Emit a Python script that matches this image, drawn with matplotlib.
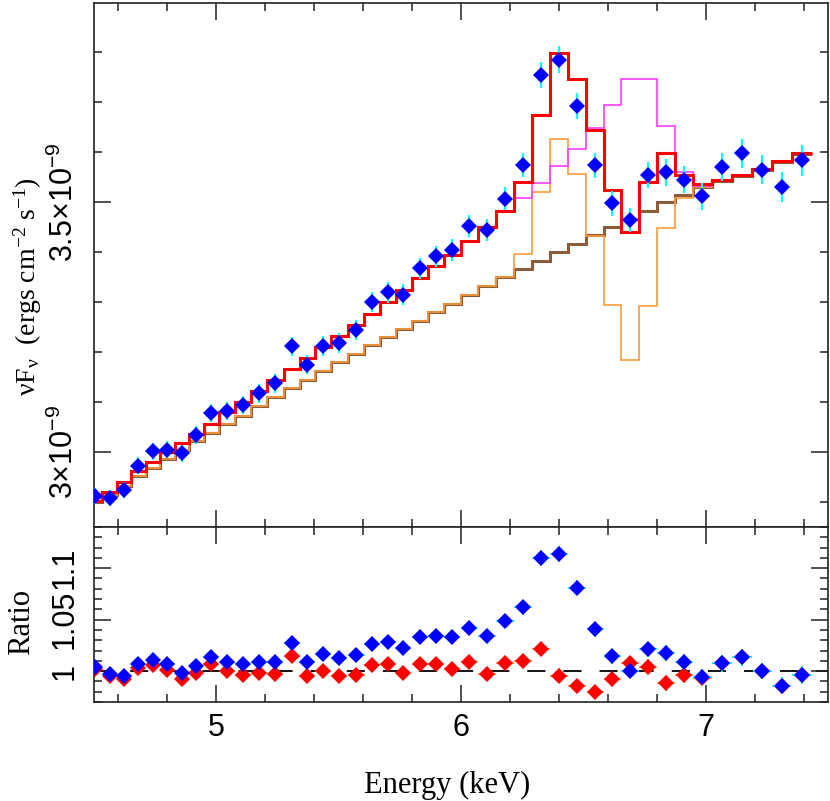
import numpy as np
import matplotlib
matplotlib.use('Agg')
import matplotlib.pyplot as plt
from matplotlib.ticker import MultipleLocator, FixedLocator

plt.rcParams['font.family'] = ['Liberation Sans', 'DejaVu Sans']
plt.rcParams['mathtext.fontset'] = 'custom'
plt.rcParams['mathtext.rm'] = 'Liberation Serif'
plt.rcParams['mathtext.it'] = 'Liberation Serif:italic'
plt.rcParams['mathtext.sf'] = 'Liberation Sans'

# bin centres (keV)
energy = np.array([4.504, 4.565, 4.623, 4.680, 4.741, 4.800, 4.860, 4.917, 4.979, 5.044,
                   5.109, 5.175, 5.240, 5.310, 5.371, 5.437, 5.502, 5.572, 5.637, 5.702,
                   5.764, 5.833, 5.899, 5.964, 6.034, 6.107, 6.181, 6.255, 6.328, 6.402,
                   6.475, 6.549, 6.619, 6.692, 6.766, 6.839, 6.913, 6.987, 7.068, 7.150,
                   7.232, 7.310, 7.392])

# nuFnu data, units of 1e-9 ergs/cm2/s
flux = np.array([2.911, 2.907, 2.923, 2.972, 3.001, 3.004, 2.997, 3.034, 3.077, 3.081,
                 3.094, 3.117, 3.137, 3.211, 3.174, 3.211, 3.217, 3.244, 3.299, 3.319,
                 3.314, 3.367, 3.391, 3.404, 3.451, 3.444, 3.506, 3.573, 3.753, 3.784,
                 3.691, 3.573, 3.497, 3.464, 3.553, 3.559, 3.544, 3.511, 3.569, 3.597,
                 3.564, 3.529, 3.583])
flux_err = np.array([0.016, 0.016, 0.016, 0.017, 0.017, 0.017, 0.017, 0.018, 0.018, 0.018,
                     0.018, 0.019, 0.019, 0.019, 0.019, 0.020, 0.020, 0.020, 0.020, 0.021,
                     0.021, 0.021, 0.021, 0.022, 0.022, 0.022, 0.023, 0.024, 0.026, 0.027,
                     0.026, 0.025, 0.025, 0.024, 0.026, 0.027, 0.027, 0.027, 0.028, 0.029,
                     0.029, 0.030, 0.031])

# total model (red)
model_total = np.array([2.901, 2.919, 2.939, 2.961, 2.979, 2.999, 3.017, 3.036, 3.056, 3.079,
                        3.099, 3.122, 3.144, 3.165, 3.187, 3.209, 3.232, 3.254, 3.276, 3.299,
                        3.323, 3.347, 3.371, 3.394, 3.421, 3.449, 3.482, 3.539, 3.674, 3.797,
                        3.745, 3.644, 3.524, 3.439, 3.539, 3.597, 3.554, 3.535, 3.544, 3.554,
                        3.565, 3.581, 3.597])

# continuum (brown)
continuum = np.array([2.899, 2.914, 2.932, 2.951, 2.967, 2.985, 3.003, 3.021, 3.037, 3.055,
                      3.072, 3.091, 3.109, 3.127, 3.144, 3.162, 3.179, 3.196, 3.213, 3.229,
                      3.245, 3.262, 3.279, 3.295, 3.313, 3.331, 3.349, 3.365, 3.382, 3.399,
                      3.415, 3.433, 3.449, 3.465, 3.482, 3.499, 3.514, 3.529, 3.541, 3.552,
                      3.564, 3.579, 3.596])

# alternative model with 6.7 keV line (magenta)
model_magenta = np.array([2.901, 2.919, 2.939, 2.961, 2.979, 2.999, 3.017, 3.036, 3.056, 3.079,
                          3.099, 3.122, 3.144, 3.165, 3.187, 3.209, 3.232, 3.254, 3.276, 3.299,
                          3.323, 3.347, 3.371, 3.394, 3.421, 3.449, 3.479, 3.507, 3.537, 3.571,
                          3.605, 3.647, 3.694, 3.746, 3.746, 3.652, 3.559, 3.531, 3.544, 3.554,
                          3.565, 3.581, 3.597])

# model with absorption feature (orange)
model_orange = np.array([2.899, 2.914, 2.932, 2.951, 2.967, 2.985, 3.003, 3.021, 3.037, 3.055,
                         3.072, 3.091, 3.109, 3.127, 3.144, 3.162, 3.179, 3.196, 3.213, 3.229,
                         3.245, 3.262, 3.279, 3.295, 3.313, 3.331, 3.349, 3.395, 3.519, 3.625,
                         3.555, 3.432, 3.293, 3.184, 3.292, 3.447, 3.507, 3.529, 3.541, 3.552,
                         3.564, 3.579, 3.596])

# ratios: data / continuum (blue) and data / total model (red)
ratio_cont = np.array([1.0042, 0.9971, 0.9955, 1.0068, 1.0107, 1.0068, 0.9984, 1.0052, 1.0140, 1.0091,
                       1.0068, 1.0084, 1.0091, 1.0276, 1.0091, 1.0162, 1.0123, 1.0156, 1.0263, 1.0279,
                       1.0221, 1.0334, 1.0344, 1.0328, 1.0416, 1.0344, 1.0487, 1.0620, 1.1097, 1.1140,
                       1.0812, 1.0409, 1.0146, 1.0003, 1.0211, 1.0179, 1.0091, 0.9945, 1.0075, 1.0133,
                       1.0000, 0.9857, 0.9961])
ratio_total = np.array([1.0016, 0.9955, 0.9922, 1.0032, 1.0058, 1.0010, 0.9922, 0.9977, 1.0068, 1.0000,
                        0.9961, 0.9977, 0.9971, 1.0146, 0.9955, 1.0003, 0.9951, 0.9961, 1.0058, 1.0065,
                        0.9977, 1.0068, 1.0065, 1.0019, 1.0091, 0.9971, 1.0081, 1.0097, 1.0214, 0.9955,
                        0.9857, 0.9799, 0.9919, 1.0081, 1.0042, 0.9886, 0.9961, 0.9929, 1.0075, 1.0133,
                        1.0000, 0.9857, 0.9961])

SCALE = 1e-9

# bin edges halfway between centres
mid = (energy[1:] + energy[:-1]) / 2
edges = np.concatenate(([energy[0] - (mid[0] - energy[0])], mid, [energy[-1] + (energy[-1] - mid[-1])]))
half_w = np.diff(edges) / 2

fig = plt.figure(figsize=(8.3, 8.01), dpi=100)
ax1 = fig.add_axes([94/830, 1 - 527/801, 734/830, 524/801])
ax2 = fig.add_axes([94/830, 1 - 702/801, 734/830, 175/801], sharex=ax1)

brown = '#8a5c3a'
orange = '#ff9a3a'
magenta = '#ff3cff'

ax1.stairs(continuum * SCALE, edges, baseline=None, color=brown, lw=2.2, zorder=1)
ax1.stairs(model_orange * SCALE, edges, baseline=None, color=orange, lw=1.2, zorder=2)
ax1.stairs(model_magenta * SCALE, edges, baseline=None, color=magenta, lw=1.2, zorder=2)
ax1.stairs(model_total * SCALE, edges, baseline=None, color='red', lw=2.2, zorder=3)
ax1.errorbar(energy, flux * SCALE, yerr=flux_err * SCALE, fmt='none', ecolor='cyan',
             elinewidth=1.6, capsize=0, zorder=4)
ax1.plot(energy, flux * SCALE, 'D', color='blue', ms=8.3, mew=0, zorder=5)

# ratio panel
ax2.axhline(1.0, color='black', lw=1.3, dashes=(10, 10), zorder=1)
ax2.errorbar(energy, ratio_total, xerr=half_w, yerr=flux_err / model_total, fmt='none',
             ecolor='#ff8c1a', elinewidth=1.2, capsize=0, zorder=2)
ax2.plot(energy, ratio_total, 'D', color='red', ms=8.3, mew=0, zorder=3)
ax2.errorbar(energy, ratio_cont, xerr=half_w, yerr=flux_err / continuum, fmt='none',
             ecolor='cyan', elinewidth=1.2, capsize=0, zorder=4)
ax2.plot(energy, ratio_cont, 'D', color='blue', ms=8.3, mew=0, zorder=5)

ax1.set_xlim(4.5, 7.5)
ax1.set_ylim(2.85e-9, 3.897e-9)
ax2.set_ylim(0.97, 1.14)

ax1.xaxis.set_major_locator(FixedLocator([5, 6, 7]))
ax1.xaxis.set_minor_locator(MultipleLocator(0.2))
ax1.set_yticks([3.0e-9, 3.5e-9], labels=[r'$\mathsf{3{\times}10^{-9}}$', r'$\mathsf{3.5{\times}10^{-9}}$'],
               rotation=90, va='center', fontsize=22)
ax1.yaxis.set_minor_locator(MultipleLocator(0.1e-9))

ax2.set_yticks([1.0, 1.05, 1.1], labels=['1', '1.05', '1.1'], rotation=90, va='center', fontsize=22)
ax2.yaxis.set_minor_locator(MultipleLocator(0.01))
ax2.set_xticks([5, 6, 7], labels=['5', '6', '7'], fontsize=22)

for ax in (ax1, ax2):
    ax.tick_params(which='both', direction='in', top=True, right=True, width=1.1, color='#222222')
    ax.tick_params(which='major', length=12)
    ax.tick_params(which='minor', length=6)
    ax.tick_params(axis='y', pad=10)
    ax.tick_params(axis='x', pad=8)
    for s in ax.spines.values():
        s.set_linewidth(1.2)
        s.set_color('#222222')
ax1.tick_params(labelbottom=False)

fig.text(447.5/830, 1 - 785/801, 'Energy (keV)', ha='center', va='center',
         fontsize=22, family='Liberation Serif')
fig.text(28/830, 1 - 287/801, r'νF$_\mathrm{ν}$  (ergs cm$^{-2}$ s$^{-1}$)', rotation=90,
         ha='center', va='center', fontsize=20, family='Liberation Serif')
fig.text(22/830, 1 - 622/801, 'Ratio', rotation=90, ha='center', va='center',
         fontsize=22, family='Liberation Serif')

fig.savefig('out.png', dpi=100)
